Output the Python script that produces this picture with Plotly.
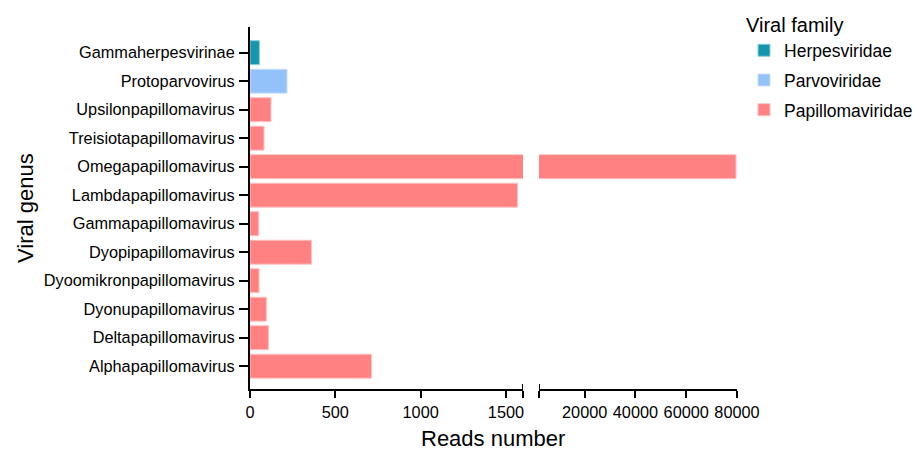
import plotly.graph_objects as go

# Data (bottom to top)
genera = ["Alphapapillomavirus", "Deltapapillomavirus", "Dyonupapillomavirus",
          "Dyoomikronpapillomavirus", "Dyopipapillomavirus", "Gammapapillomavirus",
          "Lambdapapillomavirus", "Omegapapillomavirus", "Treisiotapapillomavirus",
          "Upsilonpapillomavirus", "Protoparvovirus", "Gammaherpesvirinae"]
reads = [712, 108, 96, 53, 360, 51, 1568, 79600, 82, 123, 217, 55]
families = ["Papillomaviridae"] * 10 + ["Parvoviridae", "Herpesviridae"]

family_order = ["Herpesviridae", "Parvoviridae", "Papillomaviridae"]
family_colors = {"Herpesviridae": "#1497AE", "Parvoviridae": "#93C1F9", "Papillomaviridae": "#FF8182"}
family_edges = {"Herpesviridae": "#8CCBD6", "Parvoviridae": "#C9E0FC", "Papillomaviridae": "#FFC0C0"}

left_ticks = [0, 500, 1000, 1500, 1600]
left_ticktext = ["0", "500", "1000", "1500", ""]
right_ticks = [2000, 20000, 40000, 60000, 80000]
right_ticktext = ["", "20000", "40000", "60000", "80000"]
left_range = [0, 1600]
right_range = [2000, 80000]

FONT = "Liberation Sans, Arial, sans-serif"

fig = go.Figure()
for fam in family_order:
    ys = [g for g, f in zip(genera, families) if f == fam]
    xs = [v for v, f in zip(reads, families) if f == fam]
    for ax, show in (("x", True), ("x2", False)):
        fig.add_trace(go.Bar(
            x=xs, y=ys, orientation="h", name=fam, legendgroup=fam,
            showlegend=show, xaxis=ax, yaxis="y",
            marker=dict(color=family_colors[fam], line=dict(color=family_edges[fam], width=1)),
        ))

axis_common = dict(showline=True, linecolor="black", linewidth=2, ticks="outside",
                   ticklen=7, tickwidth=2, tickcolor="black", showgrid=False, zeroline=False,
                   automargin=False,
                   tickfont=dict(size=16.3, color="black", family=FONT))

fig.update_layout(
    width=914, height=450,
    margin=dict(l=250, r=177, t=27, b=61, autoexpand=False),
    paper_bgcolor="white", plot_bgcolor="white",
    barmode="overlay", bargap=0.16,
    font=dict(family=FONT, color="black"),
    xaxis=dict(domain=[0, 0.5606], range=left_range, tickvals=left_ticks,
               ticktext=left_ticktext, anchor="y", **axis_common),
    xaxis2=dict(domain=[0.5934, 1], range=right_range, tickvals=right_ticks,
                ticktext=right_ticktext, anchor="y", **axis_common),
    yaxis=dict(range=[-0.8, 11.9], categoryorder="array", categoryarray=genera,
               ticklabelstandoff=1, **{**axis_common, "ticklen": 9}),
    legend=dict(title=dict(text="Viral family", font=dict(size=20, color="black", family=FONT)),
                font=dict(size=17.5, color="black", family=FONT),
                x=1.0144, xanchor="left", y=1.057, yanchor="top",
                traceorder="grouped", tracegroupgap=4, bgcolor="rgba(0,0,0,0)"),
    showlegend=True,
)

# Axis break caps
for xref, xv in (("x", 1600), ("x2", 2000)):
    fig.add_shape(type="line", xref=xref, x0=xv, x1=xv, yref="paper", ysizemode="pixel",
                  yanchor=0, y0=-7, y1=5, line=dict(color="black", width=2))

fig.add_annotation(text="Reads number", xref="paper", yref="paper", x=0.499, y=-0.137,
                   xanchor="center", yanchor="middle", showarrow=False,
                   font=dict(size=22, color="black", family=FONT))
fig.add_annotation(text="Viral genus", xref="paper", yref="paper", x=-0.462, y=0.5,
                   xanchor="center", yanchor="middle", textangle=-90, showarrow=False,
                   font=dict(size=22, color="black", family=FONT))

fig.write_html("out.html", config={"displayModeBar": False},
               post_script="document.body.style.margin='0';")
